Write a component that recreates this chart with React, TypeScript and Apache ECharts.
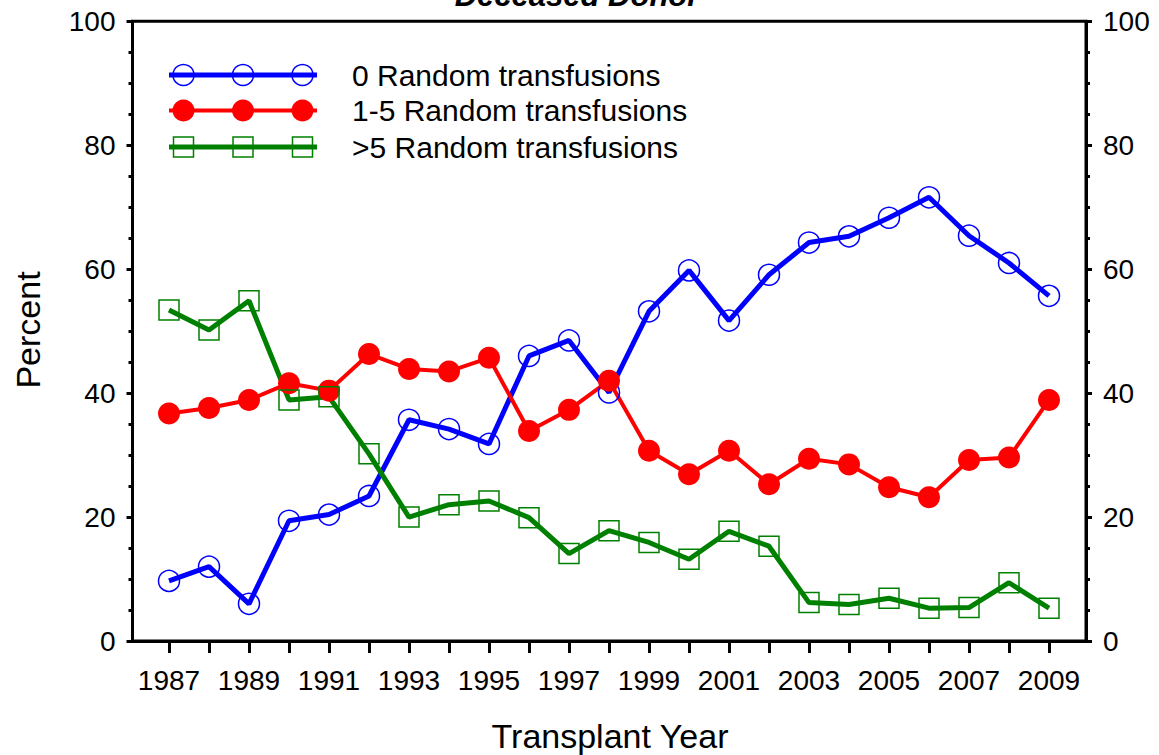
import React, { useEffect, useRef } from "react";
import * as echarts from "echarts";

const years = [1987, 1988, 1989, 1990, 1991, 1992, 1993, 1994, 1995, 1996, 1997, 1998, 1999, 2000, 2001, 2002, 2003, 2004, 2005, 2006, 2007, 2008, 2009];
const labelYears = [1987, 1989, 1991, 1993, 1995, 1997, 1999, 2001, 2003, 2005, 2007, 2009];
const zeroTransfusions = [9.7, 12.0, 6.0, 19.4, 20.4, 23.4, 35.7, 34.2, 31.8, 46.0, 48.5, 40.1, 53.2, 59.8, 51.7, 59.1, 64.3, 65.3, 68.3, 71.6, 65.4, 61.0, 55.7];
const oneToFiveTransfusions = [36.7, 37.6, 38.9, 41.6, 40.4, 46.3, 43.9, 43.5, 45.7, 33.9, 37.3, 42.0, 30.7, 26.9, 30.7, 25.3, 29.4, 28.5, 24.8, 23.2, 29.2, 29.6, 38.9];
const overFiveTransfusions = [53.4, 50.2, 54.9, 38.9, 39.4, 30.2, 20.0, 22.0, 22.6, 19.9, 14.1, 17.8, 15.9, 13.2, 17.7, 15.3, 6.2, 5.9, 6.9, 5.3, 5.4, 9.4, 5.3];
const seriesNames = ["0 Random transfusions", "1-5 Random transfusions", ">5 Random transfusions"];
const yTicks = [0, 20, 40, 60, 80, 100];

const FONT = '"Liberation Sans", Arial, sans-serif';
const BLUE = "#0000ff";
const RED = "#ff0000";
const GREEN = "#008000";

export default function App() {
  const ref = useRef<HTMLDivElement>(null);
  useEffect(() => {
    if (!ref.current) return;
    const chart = echarts.init(ref.current, null, { renderer: "svg" });
    const pair = (arr: number[]) => years.map((y, i) => [y, arr[i]]);

    const yAxisCommon = (pos: "left" | "right") => ({
      type: "value",
      position: pos,
      min: yTicks[0],
      max: yTicks[yTicks.length - 1],
      interval: 20,
      splitLine: { show: false },
      axisLine: { show: true, lineStyle: { color: "#000", width: 3 } },
      axisTick: { show: true, inside: false, length: 6, lineStyle: { color: "#000", width: 3 } },
      minorTick: { show: true, splitNumber: 4, length: 4, lineStyle: { color: "#000", width: 3 } },
      axisLabel: { margin: 17, color: "#000", fontSize: 28, fontFamily: FONT },
    });

    const legendRows = [
      { y: 75, color: BLUE, width: 5, kind: "open-circle" },
      { y: 110.5, color: RED, width: 4, kind: "filled-circle" },
      { y: 147, color: GREEN, width: 5, kind: "open-rect" },
    ];
    const legendGraphics: any[] = [];
    legendRows.forEach((r, idx) => {
      legendGraphics.push({
        type: "line",
        shape: { x1: 169, y1: r.y, x2: 317, y2: r.y },
        style: { stroke: r.color, lineWidth: r.width },
      });
      [183.5, 243, 302.5].forEach((mx) => {
        if (r.kind === "open-circle") {
          legendGraphics.push({ type: "circle", shape: { cx: mx, cy: r.y, r: 10.5 }, style: { fill: "none", stroke: r.color, lineWidth: 1.5 } });
        } else if (r.kind === "filled-circle") {
          legendGraphics.push({ type: "circle", shape: { cx: mx, cy: r.y, r: 11 }, style: { fill: r.color } });
        } else {
          legendGraphics.push({ type: "rect", shape: { x: mx - 10, y: r.y - 10, width: 20, height: 20 }, style: { fill: "none", stroke: r.color, lineWidth: 1.5 } });
        }
      });
      legendGraphics.push({
        type: "text",
        x: 352,
        y: r.y,
        style: { text: seriesNames[idx], fill: "#000", font: `30px ${FONT}`, textAlign: "left", textVerticalAlign: "middle" },
      });
    });

    chart.setOption({
      animation: false,
      backgroundColor: "#fff",
      grid: { left: 132.5, right: 73, top: 21.3, bottom: 114, show: true, borderColor: "#000", borderWidth: 3, backgroundColor: "transparent" },
      xAxis: {
        type: "value",
        min: 1986.0875,
        max: 2009.925,
        splitLine: { show: false },
        axisLine: { show: true, onZero: false, lineStyle: { color: "#000", width: 3 } },
        axisTick: { show: true, inside: false, length: 12, customValues: years, lineStyle: { color: "#000", width: 3 } },
        axisLabel: { margin: 25, color: "#000", fontSize: 28, fontFamily: FONT, customValues: labelYears, formatter: (v: number) => String(v) },
      },
      yAxis: [yAxisCommon("left"), yAxisCommon("right")],
      series: [
        {
          name: seriesNames[0],
          type: "line",
          data: pair(zeroTransfusions),
          color: BLUE,
          symbol: "circle",
          symbolSize: 21,
          lineStyle: { color: BLUE, width: 5 },
          itemStyle: { color: "rgba(0,0,0,0)", borderColor: BLUE, borderWidth: 1.5 },
        },
        {
          name: seriesNames[1],
          type: "line",
          data: pair(oneToFiveTransfusions),
          color: RED,
          symbol: "circle",
          symbolSize: 22,
          lineStyle: { color: RED, width: 4 },
          itemStyle: { color: RED, borderWidth: 0 },
        },
        {
          name: seriesNames[2],
          type: "line",
          data: pair(overFiveTransfusions),
          color: GREEN,
          symbol: "rect",
          symbolSize: 20,
          lineStyle: { color: GREEN, width: 5 },
          itemStyle: { color: "rgba(0,0,0,0)", borderColor: GREEN, borderWidth: 1.5 },
        },
      ],
      graphic: [
        {
          type: "text",
          x: 577,
          y: -5,
          style: { text: "Deceased Donor", fill: "#000", font: `italic bold 31px ${FONT}`, textAlign: "center", textVerticalAlign: "middle" },
        },
        {
          type: "text",
          x: 28,
          y: 330,
          rotation: Math.PI / 2,
          style: { text: "Percent", fill: "#000", font: `34px ${FONT}`, textAlign: "center", textVerticalAlign: "middle" },
        },
        {
          type: "text",
          x: 610,
          y: 736,
          style: { text: "Transplant Year", fill: "#000", font: `34px ${FONT}`, textAlign: "center", textVerticalAlign: "middle" },
        },
        ...legendGraphics,
      ],
    });
    return () => chart.dispose();
  }, []);
  return <div ref={ref} style={{ position: "absolute", left: 0, top: 0, width: 1159, height: 755 }} />;
}
